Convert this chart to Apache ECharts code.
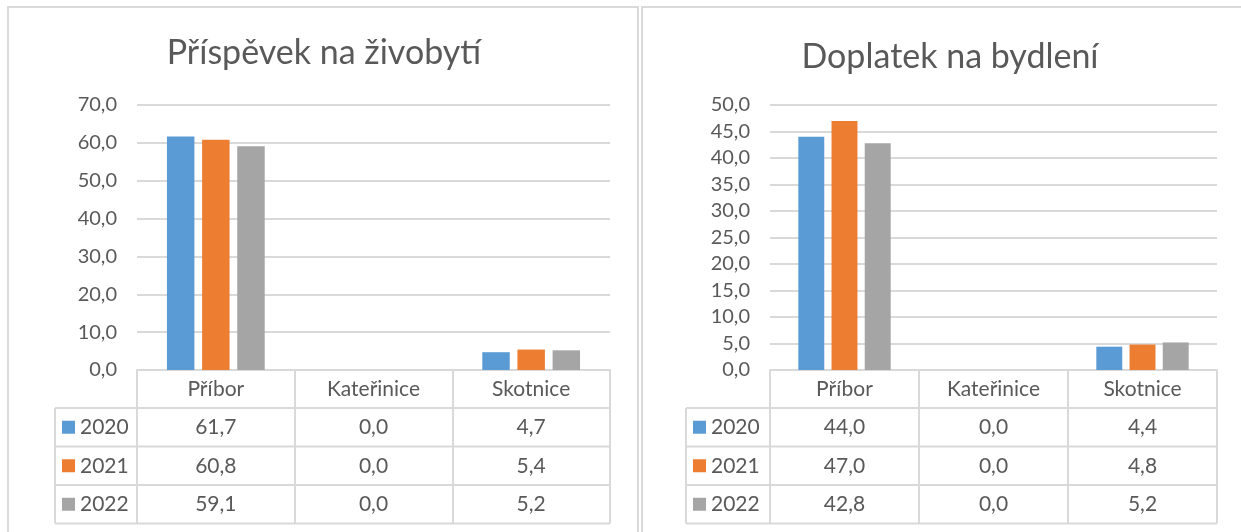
<!DOCTYPE html>
<html>
<head>
<meta charset="utf-8">
<script src="https://cdn.jsdelivr.net/npm/echarts@6/dist/echarts.min.js"></script>
<style>
  html, body { margin: 0; padding: 0; background: #fff; }
  #chart { width: 1241px; height: 532px; }
</style>
</head>
<body>
<div id="chart"></div>
<script>
// data
const categories = ['Příbor', 'Kateřinice', 'Skotnice'];
const years = ['2020', '2021', '2022'];
const colors = ['#5B9BD5', '#ED7D31', '#A5A5A5'];

const zivobyti2020 = [61.7, 0.0, 4.7];
const zivobyti2021 = [60.8, 0.0, 5.4];
const zivobyti2022 = [59.1, 0.0, 5.2];
const zivobytiTicks = [0, 10, 20, 30, 40, 50, 60, 70];

const bydleni2020 = [44.0, 0.0, 4.4];
const bydleni2021 = [47.0, 0.0, 4.8];
const bydleni2022 = [42.8, 0.0, 5.2];
const bydleniTicks = [0, 5, 10, 15, 20, 25, 30, 35, 40, 45, 50];

const FONT = 'Lato, "Noto Sans", sans-serif';
const TXT = '#595959';
const LINE = '#D9D9D9';
const fmt = v => v.toFixed(1).replace('.', ',');

// panel layout
const plotTop = 105, plotBottom = 370, rowH = 38.5, headH = 38;
const panels = [
  { title: 'Příspěvek na živobytí', titleX: 324, titleY: 53, left: 137, right: 610, legendLeft: 55,
    rows: [zivobyti2020, zivobyti2021, zivobyti2022], ticks: zivobytiTicks },
  { title: 'Doplatek na bydlení', titleX: 950, titleY: 57, left: 770, right: 1217, legendLeft: 686,
    rows: [bydleni2020, bydleni2021, bydleni2022], ticks: bydleniTicks }
];

const option = {
  animation: false,
  textStyle: { fontFamily: FONT },
  grid: [], xAxis: [], yAxis: [], series: [], graphic: []
};

// panel frames
option.graphic.push(
  { type: 'rect', shape: { x: 8, y: 7, width: 630, height: 540 }, style: { fill: 'none', stroke: LINE, lineWidth: 2 } },
  { type: 'rect', shape: { x: 642, y: 7, width: 620, height: 540 }, style: { fill: 'none', stroke: LINE, lineWidth: 2 } }
);

panels.forEach((p, pi) => {
  const tableTop = plotBottom + headH;
  const tableBottom = tableTop + rowH * 3;
  const colW = (p.right - p.left) / categories.length;

  option.graphic.push({
    type: 'text', x: p.titleX, y: p.titleY,
    style: { text: p.title, font: '34px ' + FONT, fill: TXT, align: 'center', verticalAlign: 'middle' }
  });

  option.grid.push({ left: p.left, width: p.right - p.left, top: plotTop, height: plotBottom - plotTop });
  option.xAxis.push({
    type: 'category', gridIndex: pi, data: categories,
    axisLine: { lineStyle: { color: LINE, width: 2 } },
    axisTick: { show: true, length: tableBottom - plotBottom, lineStyle: { color: LINE, width: 2 } },
    axisLabel: { color: TXT, fontSize: 21, margin: 9, fontFamily: FONT }
  });
  const step = p.ticks[1] - p.ticks[0];
  option.yAxis.push({
    type: 'value', gridIndex: pi, min: p.ticks[0], max: p.ticks[p.ticks.length - 1], interval: step,
    axisLine: { show: false }, axisTick: { show: false },
    axisLabel: { color: TXT, fontSize: 20, margin: 20, formatter: fmt, fontFamily: FONT },
    splitLine: { lineStyle: { color: LINE, width: 2 } }
  });

  p.rows.forEach((vals, ri) => {
    option.series.push({
      type: 'bar', name: years[ri], xAxisIndex: pi, yAxisIndex: pi, data: vals,
      itemStyle: { color: colors[ri] }, barGap: '28%', barCategoryGap: '38%'
    });

    // data table row
    const y0 = tableTop + ri * rowH, yc = y0 + rowH / 2;
    option.graphic.push({
      type: 'line', shape: { x1: p.legendLeft, y1: y0, x2: p.right, y2: y0 },
      style: { stroke: LINE, lineWidth: 2 }
    });
    option.graphic.push({
      type: 'rect', shape: { x: p.legendLeft + 7, y: yc - 6.5, width: 13, height: 13 },
      style: { fill: colors[ri] }
    });
    option.graphic.push({
      type: 'text', x: p.legendLeft + 25, y: yc,
      style: { text: years[ri], font: '21px ' + FONT, fill: TXT, align: 'left', verticalAlign: 'middle' }
    });
    vals.forEach((v, ci) => {
      option.graphic.push({
        type: 'text', x: p.left + colW * (ci + 0.5), y: yc,
        style: { text: fmt(v), font: '21px ' + FONT, fill: TXT, align: 'center', verticalAlign: 'middle' }
      });
    });
  });
  option.graphic.push(
    { type: 'line', shape: { x1: p.legendLeft, y1: tableBottom, x2: p.right, y2: tableBottom }, style: { stroke: LINE, lineWidth: 2 } },
    { type: 'line', shape: { x1: p.legendLeft, y1: tableTop, x2: p.legendLeft, y2: tableBottom }, style: { stroke: LINE, lineWidth: 2 } }
  );
});

const myChart = echarts.init(document.getElementById('chart'));
myChart.setOption(option);
</script>
</body>
</html>
